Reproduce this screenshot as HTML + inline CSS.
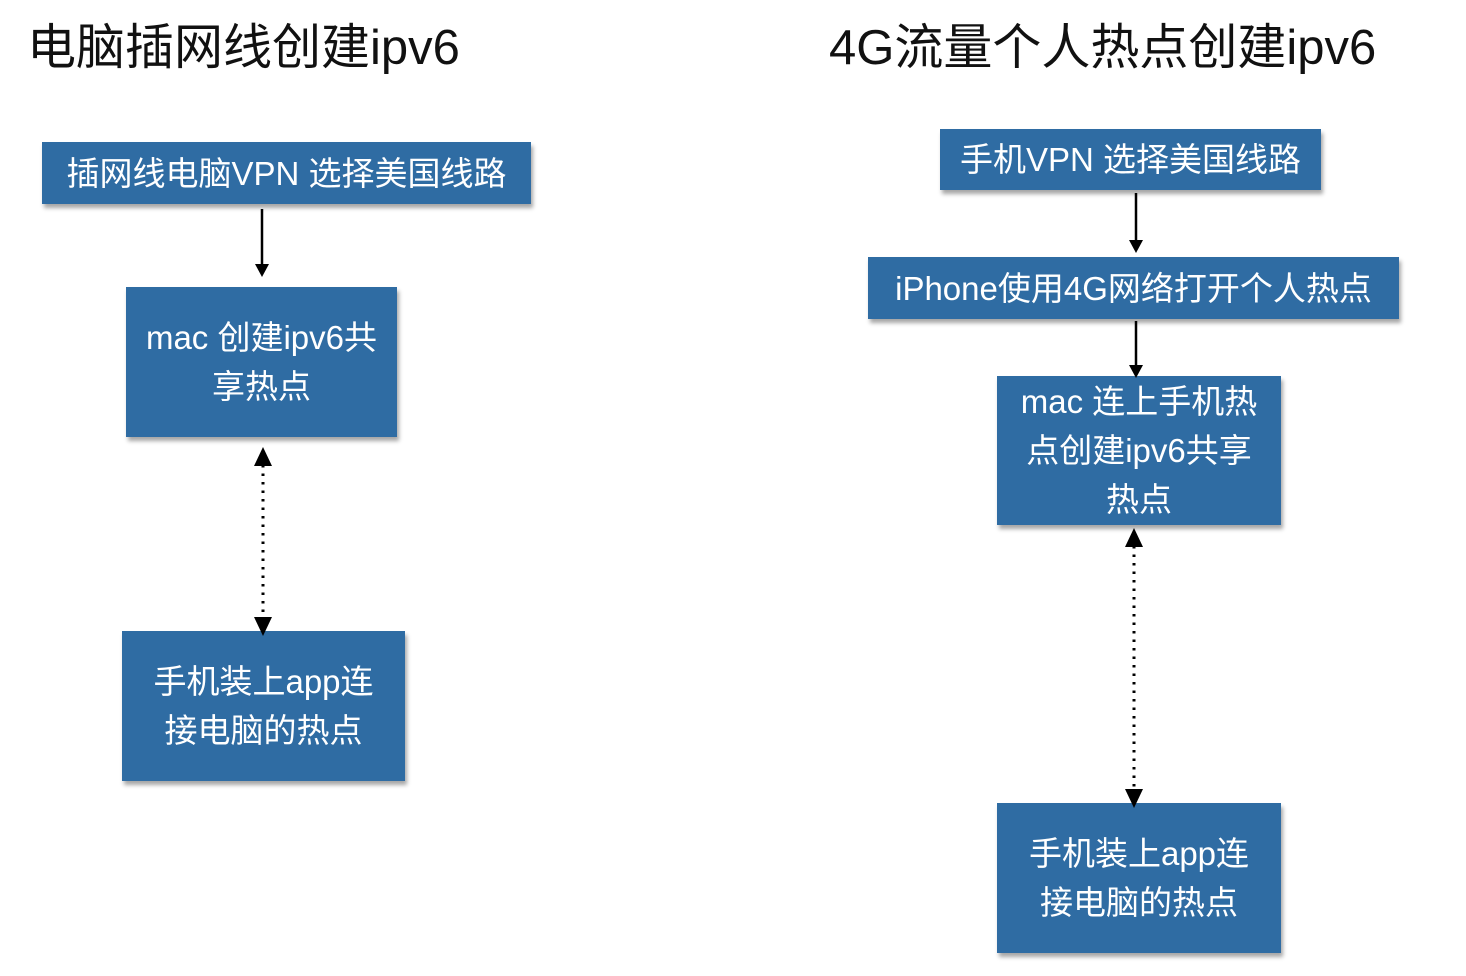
<!DOCTYPE html>
<html><head><meta charset="utf-8"><style>
body{margin:0;width:1466px;height:976px;background:#fff;position:relative;overflow:hidden;font-family:"Liberation Sans","Noto Sans CJK SC",sans-serif;}
.t{position:absolute;font-size:49px;color:#111;white-space:nowrap;line-height:1;}
.b{position:absolute;background:#2f6ca3;color:#fff;box-shadow:2px 4px 4px rgba(0,0,0,.35);display:flex;align-items:center;justify-content:center;text-align:center;font-size:33px;line-height:49px;white-space:nowrap;}
svg{position:absolute;left:0;top:0}
</style></head><body>
<div class="t" style="left:27px;top:24px">电脑插网线创建ipv6</div>
<div class="t" style="left:829px;top:24px">4G流量个人热点创建ipv6</div>

<div class="b" style="left:42px;top:142px;width:489px;height:62px">插网线电脑VPN 选择美国线路</div>
<div class="b" style="left:126px;top:287px;width:271px;height:150px">mac 创建ipv6共<br>享热点</div>
<div class="b" style="left:122px;top:631px;width:283px;height:150px">手机装上app连<br>接电脑的热点</div>

<div class="b" style="left:940px;top:129px;width:381px;height:61px">手机VPN 选择美国线路</div>
<div class="b" style="left:868px;top:257px;width:531px;height:62px">iPhone使用4G网络打开个人热点</div>
<div class="b" style="left:997px;top:376px;width:284px;height:149px">mac 连上手机热<br>点创建ipv6共享<br>热点</div>
<div class="b" style="left:997px;top:803px;width:284px;height:150px">手机装上app连<br>接电脑的热点</div>

<svg width="1466" height="976">
<g stroke="#000" stroke-width="2.5" fill="none">
<line x1="262" y1="209" x2="262" y2="266"/>
<line x1="1136" y1="193" x2="1136" y2="242"/>
<line x1="1136" y1="321" x2="1136" y2="366"/>
<line x1="263" y1="465" x2="263" y2="618" stroke-dasharray="2.5 6" stroke-width="3"/>
<line x1="1134" y1="546" x2="1134" y2="790" stroke-dasharray="2.5 6" stroke-width="3"/>
</g>
<g fill="#000">
<polygon points="255,264 269,264 262,277"/>
<polygon points="1129,240 1143,240 1136,253"/>
<polygon points="1129,365 1143,365 1136,378"/>
<polygon points="254,466 272,466 263,447"/>
<polygon points="254,617 272,617 263,636"/>
<polygon points="1125,547 1143,547 1134,528"/>
<polygon points="1125,789 1143,789 1134,808"/>
</g>
</svg>
</body></html>
